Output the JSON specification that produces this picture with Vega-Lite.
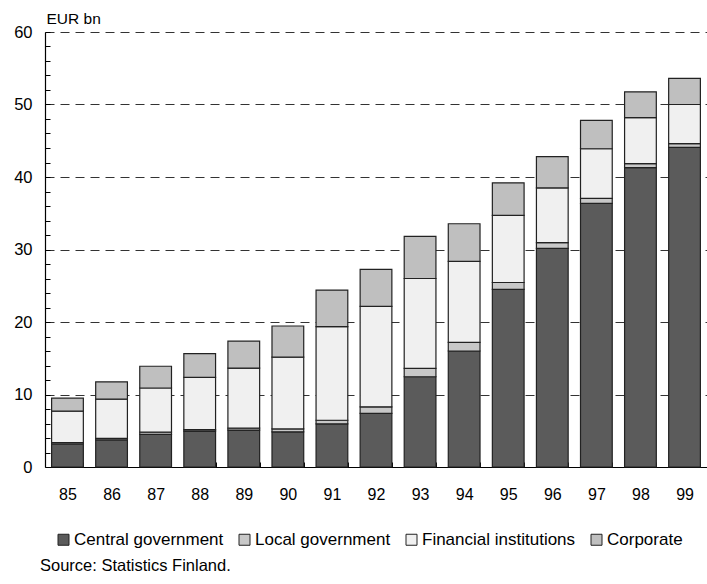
{
  "$schema": "https://vega.github.io/schema/vega-lite/v6.json",
  "width": 662,
  "height": 435,
  "autosize": "none",
  "padding": {"left": 45, "top": 32, "right": 0, "bottom": 117},
  "background": "white",
  "config": {
    "font": "Liberation Sans",
    "view": {"stroke": null},
    "axis": {"labelFont": "Liberation Sans", "titleFont": "Liberation Sans", "labelColor": "#000", "titleColor": "#000"}
  },
  "title": {
    "text": "Source: Statistics Finland.",
    "orient": "bottom",
    "anchor": "start",
    "frame": "group",
    "dx": -5,
    "offset": 10,
    "fontSize": 16.5,
    "fontWeight": "normal",
    "font": "Liberation Sans",
    "color": "#000"
  },
  "data": {
    "values": [
      {"year": "85", "series": "Central government", "o": 1, "value": 3.15},
      {"year": "85", "series": "Local government", "o": 2, "value": 0.2},
      {"year": "85", "series": "Financial institutions", "o": 3, "value": 4.35},
      {"year": "85", "series": "Corporate", "o": 4, "value": 1.8},
      {"year": "86", "series": "Central government", "o": 1, "value": 3.75},
      {"year": "86", "series": "Local government", "o": 2, "value": 0.2},
      {"year": "86", "series": "Financial institutions", "o": 3, "value": 5.4},
      {"year": "86", "series": "Corporate", "o": 4, "value": 2.4},
      {"year": "87", "series": "Central government", "o": 1, "value": 4.5},
      {"year": "87", "series": "Local government", "o": 2, "value": 0.3},
      {"year": "87", "series": "Financial institutions", "o": 3, "value": 6.1},
      {"year": "87", "series": "Corporate", "o": 4, "value": 3.0},
      {"year": "88", "series": "Central government", "o": 1, "value": 4.95},
      {"year": "88", "series": "Local government", "o": 2, "value": 0.2},
      {"year": "88", "series": "Financial institutions", "o": 3, "value": 7.2},
      {"year": "88", "series": "Corporate", "o": 4, "value": 3.3},
      {"year": "89", "series": "Central government", "o": 1, "value": 5.1},
      {"year": "89", "series": "Local government", "o": 2, "value": 0.25},
      {"year": "89", "series": "Financial institutions", "o": 3, "value": 8.3},
      {"year": "89", "series": "Corporate", "o": 4, "value": 3.7},
      {"year": "90", "series": "Central government", "o": 1, "value": 4.85},
      {"year": "90", "series": "Local government", "o": 2, "value": 0.4},
      {"year": "90", "series": "Financial institutions", "o": 3, "value": 9.9},
      {"year": "90", "series": "Corporate", "o": 4, "value": 4.3},
      {"year": "91", "series": "Central government", "o": 1, "value": 5.95},
      {"year": "91", "series": "Local government", "o": 2, "value": 0.5},
      {"year": "91", "series": "Financial institutions", "o": 3, "value": 12.9},
      {"year": "91", "series": "Corporate", "o": 4, "value": 5.05},
      {"year": "92", "series": "Central government", "o": 1, "value": 7.4},
      {"year": "92", "series": "Local government", "o": 2, "value": 0.9},
      {"year": "92", "series": "Financial institutions", "o": 3, "value": 13.85},
      {"year": "92", "series": "Corporate", "o": 4, "value": 5.1},
      {"year": "93", "series": "Central government", "o": 1, "value": 12.45},
      {"year": "93", "series": "Local government", "o": 2, "value": 1.15},
      {"year": "93", "series": "Financial institutions", "o": 3, "value": 12.4},
      {"year": "93", "series": "Corporate", "o": 4, "value": 5.8},
      {"year": "94", "series": "Central government", "o": 1, "value": 16.0},
      {"year": "94", "series": "Local government", "o": 2, "value": 1.2},
      {"year": "94", "series": "Financial institutions", "o": 3, "value": 11.15},
      {"year": "94", "series": "Corporate", "o": 4, "value": 5.2},
      {"year": "95", "series": "Central government", "o": 1, "value": 24.5},
      {"year": "95", "series": "Local government", "o": 2, "value": 0.95},
      {"year": "95", "series": "Financial institutions", "o": 3, "value": 9.25},
      {"year": "95", "series": "Corporate", "o": 4, "value": 4.5},
      {"year": "96", "series": "Central government", "o": 1, "value": 30.15},
      {"year": "96", "series": "Local government", "o": 2, "value": 0.8},
      {"year": "96", "series": "Financial institutions", "o": 3, "value": 7.55},
      {"year": "96", "series": "Corporate", "o": 4, "value": 4.3},
      {"year": "97", "series": "Central government", "o": 1, "value": 36.35},
      {"year": "97", "series": "Local government", "o": 2, "value": 0.7},
      {"year": "97", "series": "Financial institutions", "o": 3, "value": 6.85},
      {"year": "97", "series": "Corporate", "o": 4, "value": 3.9},
      {"year": "98", "series": "Central government", "o": 1, "value": 41.3},
      {"year": "98", "series": "Local government", "o": 2, "value": 0.55},
      {"year": "98", "series": "Financial institutions", "o": 3, "value": 6.35},
      {"year": "98", "series": "Corporate", "o": 4, "value": 3.55},
      {"year": "99", "series": "Central government", "o": 1, "value": 44.1},
      {"year": "99", "series": "Local government", "o": 2, "value": 0.5},
      {"year": "99", "series": "Financial institutions", "o": 3, "value": 5.4},
      {"year": "99", "series": "Corporate", "o": 4, "value": 3.6}
    ]
  },
  "mark": {"type": "bar", "stroke": "#222", "strokeWidth": 1.2},
  "encoding": {
    "x": {
      "field": "year",
      "type": "ordinal",
      "scale": {"paddingInner": 0.28, "paddingOuter": 0.15},
      "axis": {
        "title": null,
        "labelAngle": 0,
        "labelFontSize": 16,
        "labelPadding": 24,
        "tickBand": "extent",
        "tickSize": -5,
        "tickColor": "#000",
        "domainColor": "#000",
        "domainWidth": 1.2
      }
    },
    "y": {
      "field": "value",
      "type": "quantitative",
      "stack": "zero",
      "scale": {"domain": [0, 60], "nice": false},
      "axis": {
        "values": [0, 2, 4, 6, 8, 10, 12, 14, 16, 18, 20, 22, 24, 26, 28, 30, 32, 34, 36, 38, 40, 42, 44, 46, 48, 50, 52, 54, 56, 58, 60],
        "labelExpr": "datum.value % 10 == 0 ? datum.label : ''",
        "labelFontSize": 16.5,
        "labelPadding": 18,
        "tickSize": -5,
        "tickColor": "#000",
        "domainColor": "#000",
        "domainWidth": 1.2,
        "grid": true,
        "gridColor": "#333",
        "gridDash": [9, 6],
        "gridWidth": 1,
        "gridOpacity": {"condition": {"test": "datum.value % 10 == 0 && datum.value > 0", "value": 1}, "value": 0},
        "title": "EUR bn",
        "titleAngle": 0,
        "titleFontSize": 15.5,
        "titleFontWeight": "normal",
        "titleAlign": "left",
        "titleBaseline": "alphabetic",
        "titleX": 1,
        "titleY": -9
      }
    },
    "color": {
      "field": "series",
      "type": "nominal",
      "sort": ["Central government", "Local government", "Financial institutions", "Corporate"],
      "scale": {
        "domain": ["Central government", "Local government", "Financial institutions", "Corporate"],
        "range": ["#5b5b5b", "#c8c8c8", "#f0f0f0", "#bfbfbf"]
      },
      "legend": {
        "title": null,
        "orient": "none",
        "direction": "horizontal",
        "legendX": 10,
        "legendY": 499,
        "symbolType": "square",
        "symbolSize": 121,
        "symbolStrokeColor": "#222",
        "symbolStrokeWidth": 1,
        "symbolOpacity": 1,
        "labelFontSize": 17,
        "labelFont": "Liberation Sans",
        "labelColor": "#000",
        "labelOffset": 2,
        "columnPadding": 12,
        "labelLimit": 300
      }
    },
    "order": {"field": "o", "type": "quantitative"}
  }
}
